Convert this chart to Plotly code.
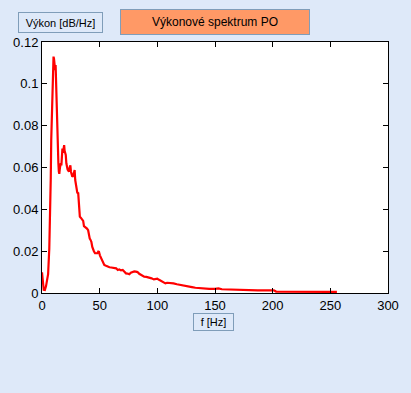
import plotly.graph_objects as go

freq = [0, 1, 1.5, 2.5, 3.5, 4.5, 5.3, 6.3, 7.1, 7.6,
        8, 8.6, 9.2, 9.6, 10, 10.4, 10.8, 11.4, 11.8, 12.3,
        12.7, 13.2, 13.6, 14.2, 14.6, 15, 15.6, 16.3, 16.8, 17.3,
        17.7, 18.2, 18.7, 19.2, 19.6, 20.2, 20.6, 21.1, 21.6, 22.2,
        22.8, 23.4, 24, 24.6, 25.1, 25.6, 26.3, 27, 27.6, 28.3,
        28.8, 29.4, 30, 30.6, 31.4, 32, 32.8, 33.6, 34.6, 35.7,
        36.4, 37.1, 38, 39, 40, 40.6, 41.4, 42, 42.8, 43.6,
        44.3, 45, 46, 47.1, 48, 48.8, 49.4, 50.2, 51.4, 52.8,
        54, 55.5, 57, 58.5, 60, 61.5, 62.8, 64.3, 65.7, 67,
        68.5, 70, 71.5, 72.8, 74.2, 75.7, 77, 78.5, 80, 81.4,
        82.8, 84.3, 85.7, 87, 88.6, 90.5, 92.8, 95, 97, 98.5,
        100, 101.5, 102.8, 105, 107, 108.5, 110, 112, 114, 117,
        120, 123, 127, 130, 133, 137, 141, 145, 150, 153,
        156, 160, 164, 168.5, 175, 181, 187, 194, 201, 203,
        208, 215.7, 225, 235, 245, 255.7]

power = [0.0099, 0.004, 0.0015, 0.0014, 0.0033, 0.0065, 0.0090, 0.021, 0.036, 0.055,
         0.073, 0.090, 0.105, 0.108, 0.113, 0.112, 0.1105, 0.1066, 0.109, 0.097,
         0.090, 0.073, 0.066, 0.062, 0.058, 0.057, 0.060, 0.062, 0.061, 0.065,
         0.069, 0.067, 0.0705, 0.0707, 0.068, 0.066, 0.066, 0.062, 0.060, 0.059,
         0.0585, 0.058, 0.060, 0.061, 0.058, 0.056, 0.0556, 0.056, 0.0585, 0.0588,
         0.054, 0.051, 0.049, 0.048, 0.0477, 0.042, 0.0365, 0.036, 0.035, 0.0345,
         0.032, 0.0317, 0.031, 0.0308, 0.030, 0.027, 0.026, 0.0255, 0.0245, 0.022,
         0.0206, 0.020, 0.019, 0.0188, 0.019, 0.0198, 0.0197, 0.018, 0.0166, 0.0145,
         0.0134, 0.013, 0.0126, 0.0123, 0.0122, 0.012, 0.0118, 0.0118, 0.011, 0.0113,
         0.0108, 0.011, 0.0102, 0.0094, 0.0093, 0.009, 0.0097, 0.0102, 0.0103, 0.0102,
         0.0100, 0.0092, 0.0086, 0.0083, 0.0078, 0.0077, 0.0075, 0.0070, 0.0065, 0.0068,
         0.0068, 0.0063, 0.0059, 0.0052, 0.0046, 0.0049, 0.0049, 0.0047, 0.0046, 0.0042,
         0.0038, 0.0035, 0.003, 0.0028, 0.0025, 0.0023, 0.002, 0.002, 0.002, 0.0022,
         0.0018, 0.0017, 0.0016, 0.0014, 0.0013, 0.0013, 0.0013, 0.0013, 0.0013, 0.0007,
         0.0007, 0.0006, 0.0006, 0.0005, 0.0005, 0.0005]

x_ticks = [0, 50, 100, 150, 200, 250, 300]
y_ticks = [0, 0.02, 0.04, 0.06, 0.08, 0.1, 0.12]
y_labels = ["0", "0.02", "0.04", "0.06", "0.08", "0.1", "0.12"]

title_text = "Výkonové spektrum PO"
ylabel_text = "Výkon [dB/Hz]"
xlabel_text = "f [Hz]"

BG = "#dee9f9"
BORDER = "#7f9db9"
FONT = "Liberation Sans, Arial, sans-serif"

fig = go.Figure()
fig.add_trace(go.Scatter(x=freq, y=power, mode="lines",
                         line=dict(color="#ff0000", width=2.2),
                         hoverinfo="skip", showlegend=False))

axis_common = dict(showgrid=False, zeroline=False, showline=True, linecolor="black",
                   linewidth=1, mirror="ticks", ticks="inside", ticklen=5,
                   tickcolor="black", tickfont=dict(family=FONT, size=13, color="black"))

fig.update_xaxes(range=[0, 300], tickvals=x_ticks, fixedrange=True, **axis_common)
fig.update_yaxes(range=[0, 0.12], tickvals=y_ticks, ticktext=y_labels, fixedrange=True,
                 **axis_common)

fig.update_layout(
    width=411, height=393,
    margin=dict(l=42, r=19, t=42, b=100, pad=0),
    paper_bgcolor=BG, plot_bgcolor="white",
    annotations=[
        dict(text=ylabel_text, xref="paper", yref="paper", x=0.0529, y=1.0777,
             showarrow=False, width=83, height=19, borderpad=0, borderwidth=1,
             bordercolor=BORDER, bgcolor=BG, xanchor="center", yanchor="middle",
             font=dict(family=FONT, size=11, color="black")),
        dict(text=title_text, xref="paper", yref="paper", x=0.5, y=1.0797,
             showarrow=False, width=188, height=24, borderpad=0, borderwidth=1,
             bordercolor=BORDER, bgcolor="#ff9966", xanchor="center", yanchor="middle",
             font=dict(family=FONT, size=12, color="black")),
        dict(text=xlabel_text, xref="paper", yref="paper", x=0.4957, y=-0.1155,
             showarrow=False, width=39, height=16, borderpad=0, borderwidth=1,
             bordercolor=BORDER, bgcolor=BG, xanchor="center", yanchor="middle",
             font=dict(family=FONT, size=11, color="black")),
    ],
)

fig.write_html("out.html",
               config={"displayModeBar": False},
               post_script="document.body.style.margin='0';document.body.style.padding='0';"
                           "document.body.style.background='#dee9f9';"
                           "document.documentElement.style.overflow='hidden';")
